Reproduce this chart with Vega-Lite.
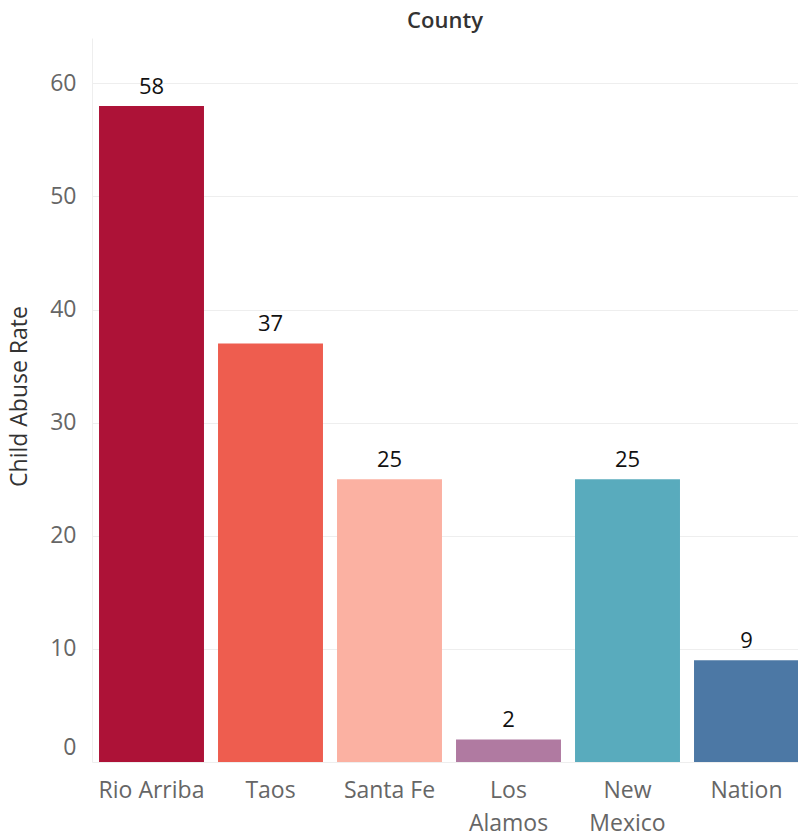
{
  "$schema": "https://vega.github.io/schema/vega-lite/v6.json",
  "autosize": "none",
  "width": 706,
  "height": 724,
  "padding": {"left": 92, "top": 38, "right": 0, "bottom": 78},
  "background": "white",
  "title": {
    "text": "County",
    "anchor": "middle",
    "font": "Open Sans",
    "fontSize": 22,
    "fontWeight": 600,
    "color": "#333333",
    "offset": 5
  },
  "data": {
    "values": [
      {"county": "Rio Arriba", "rate": 58},
      {"county": "Taos", "rate": 37},
      {"county": "Santa Fe", "rate": 25},
      {"county": "Los Alamos", "rate": 2},
      {"county": "New Mexico", "rate": 25},
      {"county": "Nation", "rate": 9}
    ]
  },
  "config": {
    "view": {"stroke": null},
    "font": "Open Sans"
  },
  "encoding": {
    "x": {
      "field": "county",
      "type": "nominal",
      "sort": null,
      "scale": {"range": [0, 714], "paddingInner": 0.118, "paddingOuter": 0.059},
      "axis": {
        "title": null,
        "labelAngle": 0,
        "labelFont": "Open Sans",
        "labelFontSize": 23,
        "labelColor": "#666666",
        "labelPadding": 17,
        "labelLineHeight": 33,
        "labelExpr": "datum.label == 'Los Alamos' || datum.label == 'New Mexico' ? split(datum.label, ' ') : datum.label",
        "ticks": false,
        "domain": false
      }
    },
    "y": {
      "field": "rate",
      "type": "quantitative",
      "scale": {"domain": [0, 64], "nice": false},
      "axis": {
        "title": "Child Abuse Rate",
        "titleFont": "Open Sans",
        "titleFontSize": 23,
        "titleFontWeight": "normal",
        "titleColor": "#333333",
        "titleBaseline": "alphabetic",
        "titleX": -66,
        "titleY": 358,
        "values": [0, 10, 20, 30, 40, 50, 60],
        "labelFont": "Open Sans",
        "labelFontSize": 23,
        "labelColor": "#666666",
        "labelPadding": 16,
        "labelOffset": {"condition": {"test": "datum.value == 0", "value": -15}, "value": 0},
        "ticks": false,
        "domain": true,
        "domainColor": "#eeeeee",
        "grid": true,
        "gridColor": "#eeeeee",
        "gridWidth": 1
      }
    }
  },
  "layer": [
    {
      "mark": {"type": "bar"},
      "encoding": {
        "color": {
          "field": "county",
          "type": "nominal",
          "legend": null,
          "scale": {
            "domain": ["Rio Arriba", "Taos", "Santa Fe", "Los Alamos", "New Mexico", "Nation"],
            "range": ["#ad1237", "#ee5d4f", "#fbb1a2", "#b07aa1", "#59abbd", "#4c78a5"]
          }
        }
      }
    },
    {
      "mark": {
        "type": "text",
        "baseline": "alphabetic",
        "dy": -12,
        "font": "Open Sans",
        "fontSize": 22,
        "color": "#111111"
      },
      "encoding": {
        "text": {"field": "rate", "type": "quantitative"}
      }
    }
  ]
}
